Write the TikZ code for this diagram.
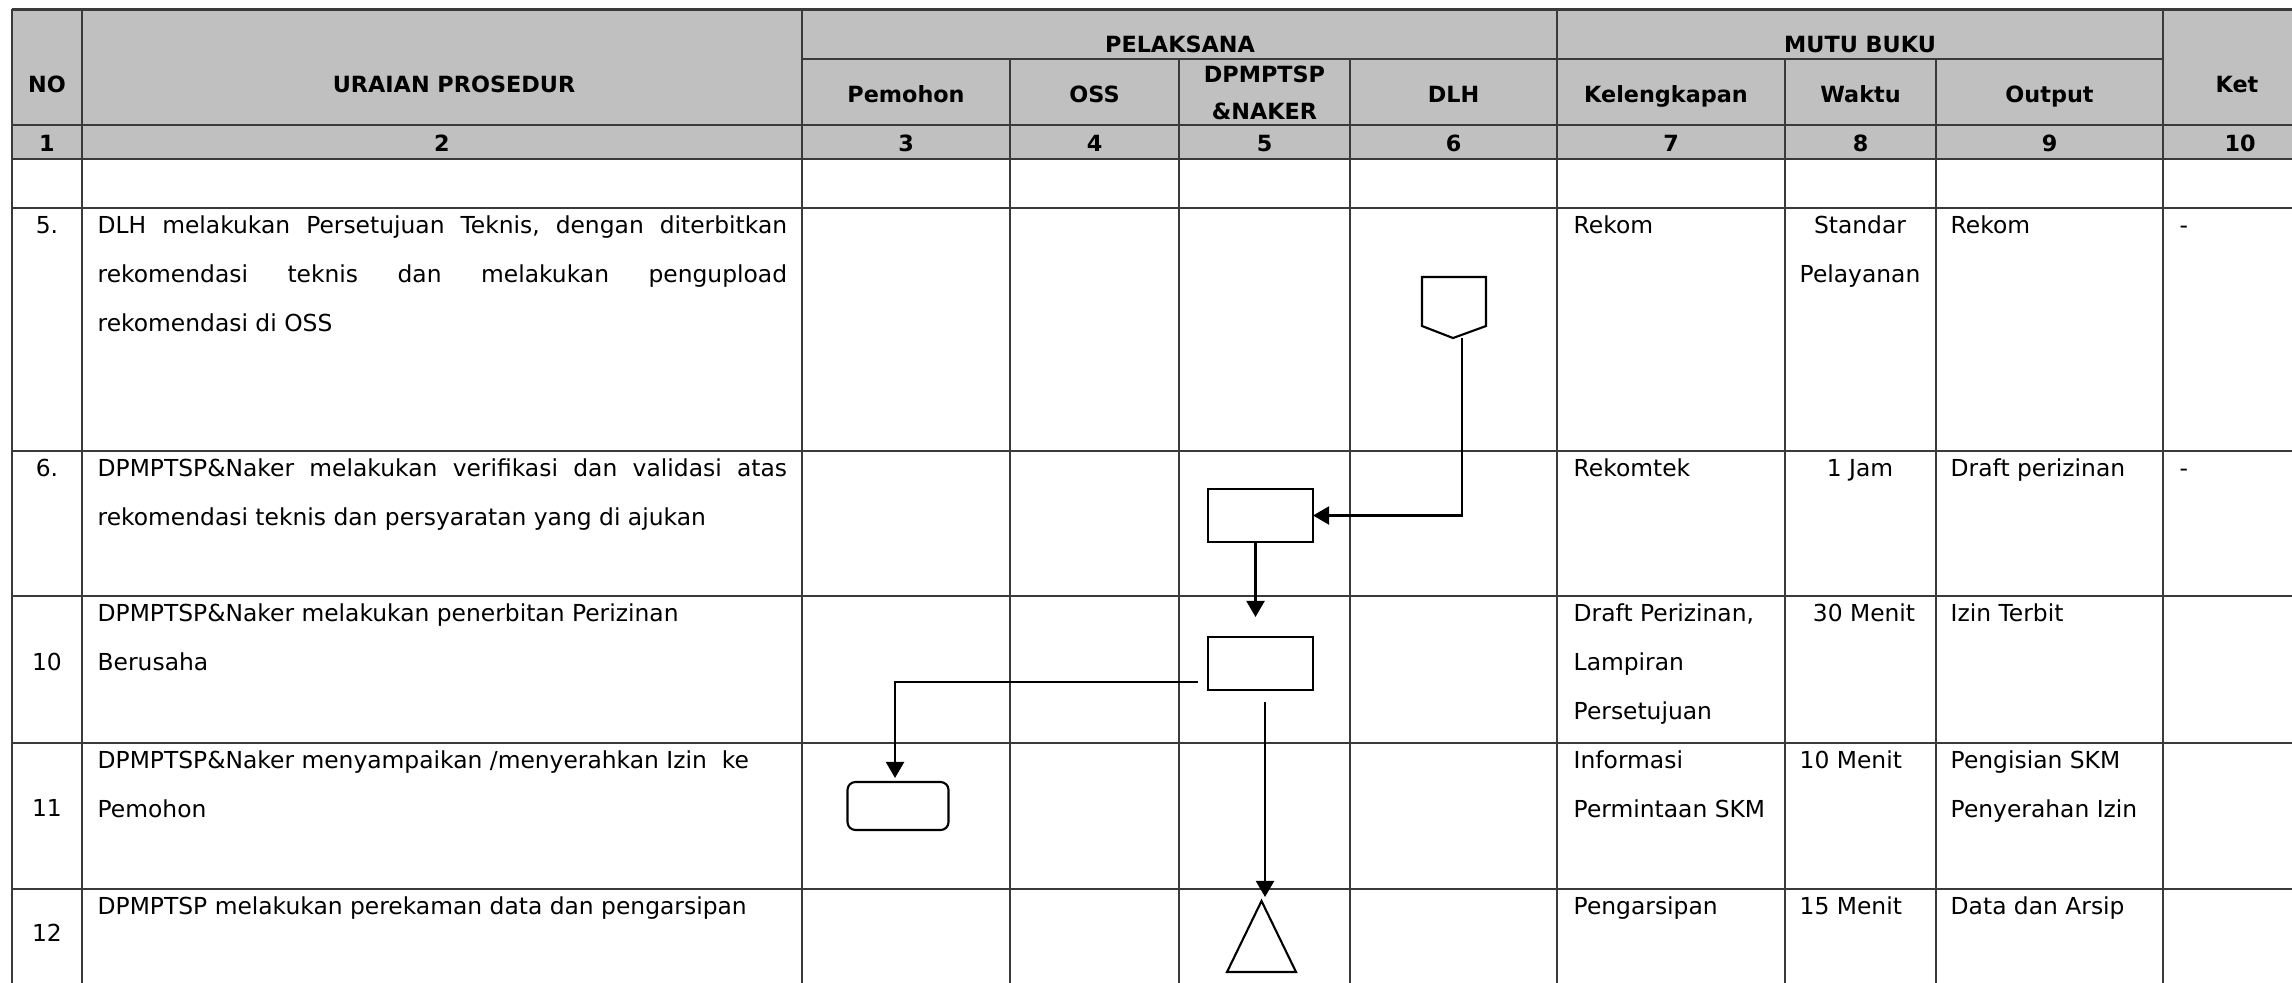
\documentclass[tikz,border=0pt]{standalone}
\usepackage{fontspec}
\newfontfamily\dvs{DejaVu Sans}
\usetikzlibrary{arrows.meta,calc}
\newcommand\mybody{\dvs\fontsize{6.65pt}{8pt}\selectfont}
\newcommand\myhead{\dvs\bfseries\fontsize{6.35pt}{8pt}\selectfont}
\definecolor{hdrgray}{HTML}{C0C0C0}
\definecolor{gridc}{HTML}{3A3A3A}
\tikzset{
  gridline/.style={line width=0.6pt, draw=gridc},
  hdr/.style={font=\myhead, inner sep=0pt, anchor=base},
  txt/.style={font=\mybody, inner sep=0pt, anchor=base west},
  ctr/.style={font=\mybody, inner sep=0pt, anchor=base},
  procbox/.style={draw, line width=0.6pt, inner sep=0pt, outer sep=0pt, minimum width=1.05cm, minimum height=0.53cm},
  endbox/.style={draw, line width=0.6pt, rounded corners=0.08cm, inner sep=0pt, outer sep=0pt, minimum width=1.01cm, minimum height=0.48cm},
  ghost/.style={inner sep=0pt, outer sep=0pt},
  arr/.style={-{Triangle[length=0.16cm,width=0.18cm]}, line width=0.6pt},
  shapeline/.style={line width=0.6pt, line join=miter},
}
\begin{document}
\begin{tikzpicture}[x=0.01cm,y=-0.01cm]
\useasboundingbox (0,0) rectangle (2292,982);
\clip (0,0) rectangle (2292,982);
% header fill
\fill[hdrgray] (12,9.5) rectangle (2340,159);
% horizontal lines
\foreach \yy in {9.5,125,159,208,451,596,743,889}
  \draw[gridline] (12,\yy) -- (2340,\yy);
\draw[gridline] (802,59) -- (2163,59);
% vertical lines
\foreach \xx in {12,82,802,1557,2163}
  \draw[gridline] (\xx,9.5) -- (\xx,1000);
\foreach \xx in {1010,1179,1350,1785,1936}
  \draw[gridline] (\xx,59) -- (\xx,1000);

% header texts
\node[hdr] (hno) at (47,93) {NO};
\node[hdr] (hur) at (454,93) {URAIAN PROSEDUR};
\node[hdr] (hpel) at (1180,53) {PELAKSANA};
\node[hdr] (hmutu) at (1860,53) {MUTU BUKU};
\node[hdr] (hket) at (2237,93) {Ket};
\node[hdr] (hpem) at (906,103) {Pemohon};
\node[hdr] (hoss) at (1094.5,103) {OSS};
\node[hdr] (hdp1) at (1264.5,83) {DPMPTSP};
\node[hdr] (hdp2) at (1264.5,120) {\&NAKER};
\node[hdr] (hdlh) at (1453.5,103) {DLH};
\node[hdr] (hkel) at (1666,103) {Kelengkapan};
\node[hdr] (hwak) at (1860.5,103) {Waktu};
\node[hdr] (hout) at (2049.5,103) {Output};
% numbers row
\node[hdr] (n1) at (47,152) {1};
\node[hdr] (n2) at (442,152) {2};
\node[hdr] (n3) at (906,152) {3};
\node[hdr] (n4) at (1094.5,152) {4};
\node[hdr] (n5) at (1264.5,152) {5};
\node[hdr] (n6) at (1453.5,152) {6};
\node[hdr] (n7) at (1671,152) {7};
\node[hdr] (n8) at (1860.5,152) {8};
\node[hdr] (n9) at (2049.5,152) {9};
\node[hdr] (n10) at (2240,152) {10};

% row 5
\node[ctr] (no5) at (47,233.5) {5.};
\node[txt] (t5a) at (97,233.5) {\hbox to 6.89cm{DLH\hfill melakukan\hfill Persetujuan\hfill Teknis,\hfill dengan\hfill diterbitkan}};
\node[txt] (t5b) at (97,282.5) {\hbox to 6.89cm{rekomendasi\hfill teknis\hfill dan\hfill melakukan\hfill pengupload}};
\node[txt] (t5c) at (97,331.5) {rekomendasi di OSS};
\node[txt] (k5) at (1573,233.5) {Rekom};
\node[ctr] (w5a) at (1860,233.5) {Standar};
\node[ctr] (w5b) at (1860,282.5) {Pelayanan};
\node[txt] (o5) at (1950,233.5) {Rekom};
\node[txt] (ket5) at (2179,233.5) {-};

% row 6
\node[ctr] (no6) at (47,476.5) {6.};
\node[txt] (t6a) at (97,476.5) {\hbox to 6.89cm{DPMPTSP\&Naker\hfill melakukan\hfill verifikasi\hfill dan\hfill validasi\hfill atas}};
\node[txt] (t6b) at (97,525.5) {rekomendasi teknis dan persyaratan yang di ajukan};
\node[txt] (k6) at (1573,476.5) {Rekomtek};
\node[ctr] (w6) at (1860,476.5) {1 Jam};
\node[txt] (o6) at (1950,476.5) {Draft perizinan};
\node[txt] (ket6) at (2179,476.5) {-};

% row 10
\node[ctr] (no10) at (47,670.5) {10};
\node[txt] (t10a) at (97,621.5) {DPMPTSP\&Naker melakukan penerbitan Perizinan};
\node[txt] (t10b) at (97,670.5) {Berusaha};
\node[txt] (k10a) at (1573,621.5) {Draft Perizinan,};
\node[txt] (k10b) at (1573,670.5) {Lampiran};
\node[txt] (k10c) at (1573,719.5) {Persetujuan};
\node[ctr] (w10) at (1864,621.5) {30 Menit};
\node[txt] (o10) at (1950,621.5) {Izin Terbit};

% row 11
\node[ctr] (no11) at (47,816) {11};
\node[txt] (t11a) at (97,768.5) {DPMPTSP\&Naker menyampaikan /menyerahkan Izin\ \ ke};
\node[txt] (t11b) at (97,817.5) {Pemohon};
\node[txt] (k11a) at (1573,768.5) {Informasi};
\node[txt] (k11b) at (1573,817.5) {Permintaan SKM};
\node[txt] (w11) at (1799,768.5) {10 Menit};
\node[txt] (o11a) at (1950,768.5) {Pengisian SKM};
\node[txt] (o11b) at (1950,817.5) {Penyerahan Izin};

% row 12
\node[ctr] (no12) at (47,941) {12};
\node[txt] (t12a) at (97,914.5) {DPMPTSP melakukan perekaman data dan pengarsipan};
\node[txt] (k12) at (1573,914.5) {Pengarsipan};
\node[txt] (w12) at (1799,914.5) {15 Menit};
\node[txt] (o12) at (1950,914.5) {Data dan Arsip};

% flowchart shapes
\node[ghost, minimum width=0.64cm, minimum height=0.61cm] (pent) at (1454,307.5) {};
\draw[shapeline] (pent.north west) -- (pent.north east) -- ($(pent.south east)+(0,-12)$) -- ($(pent.south)+(-1,0)$) -- ($(pent.south west)+(0,-12)$) -- cycle;
\node[procbox] (r1) at (1260.5,515.5) {};
\node[procbox] (r2) at (1260.5,663.5) {};
\node[endbox] (rr) at (898,806) {};
\node[ghost, minimum width=0.69cm, minimum height=0.71cm] (tri) at (1261.5,936.5) {};
\draw[shapeline] (tri.south west) -- (tri.north) -- (tri.south east) -- cycle;

% connectors
\draw[arr] ($(pent.south)+(8,0)$) |- (r1.east);
\draw[arr] ($(r1.south)+(-5,0)$) -- ($(r2.north)+(-5,-20)$);
\draw[arr] ($(r2.west)+(-10,18.5)$) -| ($(rr.north)+(-3,-4)$);
\draw[arr] ($(r2.south)+(4.5,12)$) -- ($(tri.north)+(3.5,-4)$);
\end{tikzpicture}
\end{document}
